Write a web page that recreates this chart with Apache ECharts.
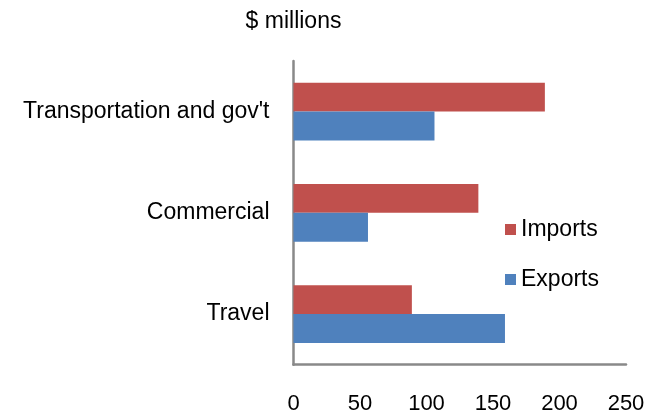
<!DOCTYPE html>
<html>
<head>
<meta charset="utf-8">
<script src="https://cdn.jsdelivr.net/npm/echarts@6/dist/echarts.min.js"></script>
<style>
  html, body { margin: 0; padding: 0; background: #fff; }
  #chart { width: 657px; height: 412px; }
</style>
</head>
<body>
<div id="chart"></div>
<script>
const categories = ['Travel', 'Commercial', "Transportation and gov't"];
const exportsValues = [159, 56, 106];
const importsValues = [89, 139, 189];
const xTicks = [0, 50, 100, 150, 200, 250];
const unitLabel = '$ millions';

const chart = echarts.init(document.getElementById('chart'), null, { renderer: 'canvas' });
const font = "'Liberation Sans', Arial, sans-serif";

chart.setOption({
  animation: false,
  backgroundColor: '#ffffff',
  textStyle: { fontFamily: font, color: '#000' },
  grid: { left: 293.5, right: 31, top: 61, bottom: 47.3, containLabel: false, outerBoundsMode: 'none' },
  legend: {
    orient: 'vertical',
    left: 505,
    top: 218,
    padding: 0,
    itemWidth: 11,
    itemHeight: 11,
    itemGap: 27,
    icon: 'rect',
    data: ['Imports', 'Exports'],
    textStyle: { fontFamily: font, fontSize: 23, color: '#000', lineHeight: 23 }
  },
  xAxis: {
    type: 'value',
    min: xTicks[0],
    max: xTicks[xTicks.length - 1],
    interval: xTicks[1] - xTicks[0],
    axisLine: { show: true, lineStyle: { color: '#898989', width: 2.5 } },
    axisTick: { show: false },
    splitLine: { show: false },
    axisLabel: { margin: 28, fontSize: 22, color: '#000', fontFamily: font }
  },
  yAxis: {
    type: 'category',
    data: categories,
    name: unitLabel,
    nameLocation: 'end',
    nameGap: 28,
    nameTextStyle: { fontSize: 23, color: '#000', fontFamily: font },
    axisLine: { show: true, lineStyle: { color: '#898989', width: 2.5 } },
    axisTick: { show: false },
    splitLine: { show: false },
    axisLabel: { margin: 24, fontSize: 23, color: '#000', fontFamily: font, padding: [7, 0, 0, 0] }
  },
  series: [
    {
      name: 'Imports',
      type: 'bar',
      data: importsValues,
      itemStyle: { color: '#C0504D' },
      barGap: '0%',
      barCategoryGap: '43%'
    },
    {
      name: 'Exports',
      type: 'bar',
      data: exportsValues,
      itemStyle: { color: '#4F81BD' },
      barGap: '0%',
      barCategoryGap: '43%'
    }
  ]
});
</script>
</body>
</html>
